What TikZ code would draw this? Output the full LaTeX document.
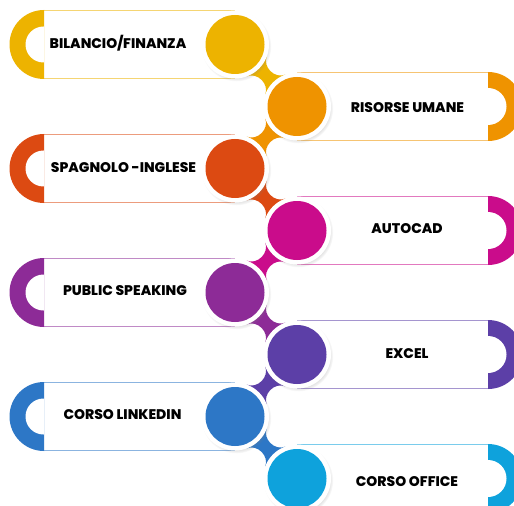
\documentclass[tikz,border=0pt]{standalone}
\usepackage{fontspec}
\setmainfont{Poppins}[BoldFont={Poppins ExtraBold}]
\usetikzlibrary{calc,shadows}
\definecolor{k1}{HTML}{EDB300}
\definecolor{k2}{HTML}{EF9300}
\definecolor{k3}{HTML}{DC4A12}
\definecolor{k4}{HTML}{CA0C8B}
\definecolor{k5}{HTML}{8D2B97}
\definecolor{k6}{HTML}{5C3FA7}
\definecolor{k7}{HTML}{2D77C6}
\definecolor{k8}{HTML}{0EA2DC}
\tikzset{
  ring/.style={circle, fill=white, inner sep=0pt, minimum size=68bp,
    circular drop shadow={shadow xshift=1.2bp, shadow yshift=-1.8bp, shadow scale=1.03, opacity=.3}},
  itemtext/.style={font=\fontsize{14}{16}\selectfont\bfseries, text=black, inner sep=0pt, anchor=base},
  rimline/.style={line width=1bp}
}
% #1 bar y, #2 colour, #3 name, #4 text, #5 text x, #6 text cap-centre y
\newcommand\leftbar[6]{%
  \fill[white] (44,#1-34.5) rectangle (235,#1+34.5);
  \draw[#2!55, rimline] (44,#1-34) -- (235,#1-34) (44,#1+34) -- (235,#1+34);
  \begin{scope}
    \clip (0,#1-40) rectangle (44,#1+40);
    \fill[#2] (44,#1) circle[radius=34.5];
    \fill[white] (43.5,#1) circle[radius=18];
  \end{scope}
  \node[itemtext] (#3) at (#5,#6+4.9) {#4};
}
\newcommand\rightbar[6]{%
  \fill[white] (297,#1-34.5) rectangle (488,#1+34.5);
  \draw[#2!55, rimline] (297,#1-34) -- (488,#1-34) (297,#1+34) -- (488,#1+34);
  \begin{scope}
    \clip (488,#1-40) rectangle (540,#1+40);
    \fill[#2] (488,#1) circle[radius=34.5];
    \fill[white] (488,#1) circle[radius=18.5];
  \end{scope}
  \node[itemtext] (#3) at (#5,#6+4.9) {#4};
}
\newcommand\neck[3]{%
  \fill[#3] ($(#1)!34bp!25:(#2)$)
    .. controls ($(#1)!0.4!(#2)!3.5bp!90:(#2)$) and ($(#1)!0.6!(#2)!3.5bp!90:(#2)$) ..
    ($(#2)!34bp!-25:(#1)$) -- ($(#2)!34bp!25:(#1)$)
    .. controls ($(#1)!0.6!(#2)!3.5bp!-90:(#2)$) and ($(#1)!0.4!(#2)!3.5bp!-90:(#2)$) ..
    ($(#1)!34bp!-25:(#2)$) -- cycle;
}
\begin{document}
\begin{tikzpicture}[x=1bp,y=-1bp]
\useasboundingbox (0,0) rectangle (514,506);
\clip (0,0) rectangle (514,506);
\fill[white] (0,0) rectangle (514,506);
\leftbar{44.5}{k1}{t1}{BILANCIO/FINANZA}{118}{43.5}
\rightbar{106.5}{k2}{t2}{RISORSE UMANE}{407.5}{107.2}
\leftbar{168.5}{k3}{t3}{SPAGNOLO -INGLESE}{123.5}{167.2}
\rightbar{230.5}{k4}{t4}{AUTOCAD}{407}{228.8}
\leftbar{292.5}{k5}{t5}{PUBLIC SPEAKING}{125}{290.5}
\rightbar{354.5}{k6}{t6}{EXCEL}{407}{353.7}
\leftbar{416.5}{k7}{t7}{CORSO LINKEDIN}{122.5}{414.5}
\rightbar{478.5}{k8}{t8}{CORSO OFFICE}{407}{481.5}
\coordinate (p1) at (235,44.5);
\coordinate (p2) at (297,106.5);
\coordinate (p3) at (235,168.5);
\coordinate (p4) at (297,230.5);
\coordinate (p5) at (235,292.5);
\coordinate (p6) at (297,354.5);
\coordinate (p7) at (235,416.5);
\coordinate (p8) at (297,478.5);
\neck{p1}{p2}{k1}
\neck{p2}{p3}{k2}
\neck{p3}{p4}{k3}
\neck{p4}{p5}{k4}
\neck{p5}{p6}{k5}
\neck{p6}{p7}{k6}
\neck{p7}{p8}{k7}
\foreach \i in {1,...,8} {
  \node[ring] (c\i) at (p\i) {};
  \fill[k\i] (c\i.center) circle[radius=29.5];
}
\end{tikzpicture}
\end{document}
